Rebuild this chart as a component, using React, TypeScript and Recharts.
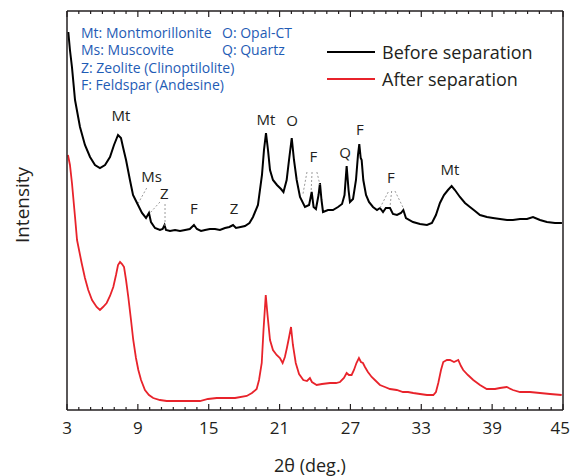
import { LineChart, Line, XAxis, YAxis, ReferenceLine, ReferenceDot } from 'recharts';

const FONT = '"Open Sans", sans-serif';
const INK = '#231f20';
const KEY_BLUE = '#1f5cb5';

// 2θ (deg.) vs. intensity (arb. units)
const beforeSeparation: [number, number][] = [
  [3.11, 378], [3.25, 360], [3.42, 343], [3.68, 310], [4.1, 283], [4.52, 265], [4.95, 253],
  [5.37, 245], [5.79, 242], [6.22, 245], [6.64, 253], [6.98, 265], [7.32, 275], [7.57, 272],
  [7.74, 263], [8.0, 250], [8.33, 230], [8.59, 215], [8.93, 207], [9.35, 197], [9.69, 192],
  [9.94, 197], [10.11, 188], [10.45, 182], [10.87, 180], [11.1, 181], [11.26, 185], [11.38, 180],
  [11.72, 179], [12.15, 180], [12.57, 179], [13.0, 180], [13.4, 181], [13.75, 185], [14.0, 181],
  [14.35, 179], [14.69, 180], [15.1, 181], [15.53, 181], [15.95, 180], [16.38, 182], [16.75, 183],
  [17.06, 185], [17.31, 182], [17.7, 183], [18.07, 184], [18.45, 187], [18.75, 193], [19.17, 205],
  [19.51, 235], [19.68, 260], [19.85, 277], [20.02, 260], [20.19, 240], [20.44, 230], [20.78, 225],
  [21.12, 221], [21.33, 218], [21.6, 230], [21.8, 250], [22.03, 272], [22.22, 250], [22.45, 230],
  [22.73, 213], [23.15, 203], [23.5, 205], [23.72, 218], [23.88, 203], [24.08, 201], [24.3, 215],
  [24.42, 227], [24.55, 210], [24.68, 198], [25.1, 200], [25.52, 200], [25.95, 203], [26.29, 206],
  [26.5, 215], [26.68, 244], [26.84, 220], [26.96, 208], [27.22, 211], [27.47, 230], [27.64, 255],
  [27.75, 266], [27.87, 252], [27.95, 250], [28.09, 230], [28.32, 215], [28.57, 208], [28.91, 203],
  [29.25, 200], [29.5, 202], [29.76, 198], [30.0, 202], [30.35, 202], [30.6, 196], [30.94, 195],
  [31.28, 197], [31.48, 200], [31.7, 192], [32.3, 188], [32.89, 186], [33.48, 185], [33.9, 187],
  [34.24, 195], [34.58, 207], [34.92, 215], [35.26, 220], [35.57, 224], [35.85, 220], [36.27, 213],
  [36.7, 207], [37.12, 203], [37.55, 199], [37.97, 195], [38.56, 193], [39.07, 192], [39.66, 191],
  [40.26, 190], [40.76, 190], [41.36, 191], [41.95, 191], [42.46, 193], [43.05, 190], [43.64, 188],
  [44.32, 187], [44.91, 187],
];

const afterSeparation: [number, number][] = [
  [3.08, 255], [3.25, 245], [3.42, 227], [3.68, 193], [3.85, 170], [4.24, 147], [4.52, 132],
  [4.8, 120], [5.12, 110], [5.51, 103], [5.79, 100], [6.05, 103], [6.36, 107], [6.64, 114],
  [6.92, 123], [7.15, 135], [7.32, 145], [7.49, 148], [7.66, 146], [7.83, 143], [8.0, 130],
  [8.19, 113], [8.42, 90], [8.61, 70], [8.84, 52], [9.04, 40], [9.27, 30], [9.6, 20], [9.94, 15],
  [10.3, 12], [10.87, 10], [11.44, 9], [12.14, 9], [12.99, 9], [13.84, 9], [14.26, 9], [14.94, 11],
  [15.68, 12], [16.38, 12], [17.23, 12], [18.22, 14], [18.66, 17], [19.06, 21], [19.26, 30],
  [19.49, 47], [19.64, 80], [19.83, 115], [19.98, 95], [20.19, 70], [20.44, 60], [20.75, 55],
  [21.03, 52], [21.26, 47], [21.45, 53], [21.62, 62], [21.79, 72], [21.97, 83], [22.13, 65],
  [22.37, 47], [22.65, 36], [23.01, 30], [23.32, 29], [23.57, 32], [23.74, 28], [24.14, 25],
  [24.59, 26], [25.27, 27], [25.78, 27], [26.12, 28], [26.45, 32], [26.68, 37], [26.87, 35],
  [27.1, 35], [27.3, 40], [27.51, 47], [27.72, 52], [27.89, 48], [28.06, 47], [28.23, 43],
  [28.48, 38], [28.8, 33], [29.07, 30], [29.5, 25], [29.92, 23], [30.35, 21], [30.92, 20],
  [31.45, 18], [31.87, 18], [32.32, 17], [32.89, 16], [33.48, 15], [34.02, 15], [34.24, 18],
  [34.44, 27], [34.67, 40], [34.86, 48], [35.17, 50], [35.43, 50], [35.77, 48], [36.13, 50],
  [36.36, 44], [36.55, 40], [36.95, 35], [37.4, 30], [37.97, 25], [38.54, 21], [39.24, 21],
  [39.66, 22], [40.23, 23], [40.76, 20], [41.36, 18], [42.2, 18], [43.05, 17], [43.9, 16],
  [44.89, 15],
];

const majorTicks = [3, 9, 15, 21, 27, 33, 39, 45];
const allTicks = Array.from({ length: 43 }, (_, i) => 3 + i);

// phase labels over the peaks: [text, 2θ, intensity]
const peakLabels: [string, number, number][] = [
  ['Mt', 7.57, 294], ['Ms', 10.17, 233], ['Z', 11.24, 216], ['F', 13.75, 201], ['Z', 17.14, 201],
  ['Mt', 19.85, 290], ['O', 22.05, 289], ['F', 23.86, 253], ['Q', 26.54, 257], ['F', 27.81, 280],
  ['F', 30.43, 232], ['Mt', 35.43, 240],
];

// dotted leader lines from labels to minor peaks
const leaderLines: [number, number, number, number][] = [
  [9.75, 222, 9.04, 207], [10.87, 208, 10.03, 197], [11.3, 206, 11.3, 182],
  [23.32, 238, 22.98, 216], [23.75, 238, 23.67, 218], [24.16, 238, 24.42, 225],
  [30.2, 218, 29.5, 202], [30.49, 219, 30.35, 203], [30.77, 219, 31.48, 202],
];

const mineralKey: string[][] = [
  ['Mt: Montmorillonite', 'O: Opal-CT'],
  ['Ms: Muscovite', 'Q: Quartz'],
  ['Z: Zeolite (Clinoptilolite)'],
  ['F: Feldspar (Andesine)'],
];

const legendItems = [
  { name: 'Before separation', color: '#000000' },
  { name: 'After separation', color: '#e8232b' },
];

const toPoints = (rows: [number, number][]) => rows.map(([deg, intensity]) => ({ deg, intensity }));

const BottomTick = ({ x, y, payload }: any) => {
  const major = majorTicks.includes(payload.value);
  const last = payload.value === majorTicks[majorTicks.length - 1];
  return (
    <g>
      <line x1={x} x2={x} y1={y} y2={y - (major ? 6 : 3)} stroke={INK} strokeWidth={1.2} />
      {major && (
        <text
          x={last ? x + 7 : x}
          y={y + 24}
          textAnchor={last ? 'end' : 'middle'}
          fontSize={17}
          fontFamily={FONT}
          fill={INK}
        >
          {payload.value}
        </text>
      )}
    </g>
  );
};

const TopTick = ({ x, y, payload }: any) => {
  const major = majorTicks.includes(payload.value);
  return <line x1={x} x2={x} y1={y} y2={y + (major ? 6 : 3)} stroke={INK} strokeWidth={1.2} />;
};

export default function App() {
  return (
    <div style={{ position: 'absolute', left: 0, top: 0, width: 571, height: 476, background: '#fff', fontFamily: FONT, color: INK }}>
      <LineChart width={571} height={476} margin={{ top: 1, right: 0, bottom: 36, left: 57 }}>
        <XAxis
          xAxisId="x"
          type="number"
          dataKey="deg"
          domain={[3, 45]}
          ticks={allTicks}
          interval={0}
          height={30}
          tickSize={0}
          tickMargin={0}
          tickLine={false}
          tick={<BottomTick />}
          axisLine={{ stroke: INK, strokeWidth: 1.5 }}
          allowDataOverflow
        />
        <XAxis
          xAxisId="top"
          orientation="top"
          type="number"
          dataKey="deg"
          domain={[3, 45]}
          ticks={allTicks}
          interval={0}
          height={10}
          tickSize={0}
          tickMargin={0}
          tickLine={false}
          tick={<TopTick />}
          axisLine={{ stroke: INK, strokeWidth: 1.5 }}
          allowDataOverflow
        />
        <YAxis yAxisId="y" type="number" domain={[0, 399]} width={10} tick={false} tickLine={false} axisLine={{ stroke: INK, strokeWidth: 1.5 }} allowDataOverflow />
        <YAxis yAxisId="r" orientation="right" type="number" domain={[0, 399]} width={8} tick={false} tickLine={false} axisLine={{ stroke: INK, strokeWidth: 1.5 }} />

        <Line
          xAxisId="x"
          yAxisId="y"
          data={toPoints(afterSeparation)}
          dataKey="intensity"
          stroke={legendItems[1].color}
          strokeWidth={1.8}
          dot={false}
          isAnimationActive={false}
        />
        <Line
          xAxisId="x"
          yAxisId="y"
          data={toPoints(beforeSeparation)}
          dataKey="intensity"
          stroke={legendItems[0].color}
          strokeWidth={2}
          dot={false}
          isAnimationActive={false}
        />

        {leaderLines.map(([x1, y1, x2, y2], i) => (
          <ReferenceLine
            key={`lead-${i}`}
            xAxisId="x"
            yAxisId="y"
            segment={[{ x: x1, y: y1 }, { x: x2, y: y2 }]}
            stroke="#9b9b9b"
            strokeWidth={1}
            strokeDasharray="2 2"
          />
        ))}

        {peakLabels.map(([name, deg, at], i) => (
          <ReferenceDot
            key={`peak-${i}`}
            xAxisId="x"
            yAxisId="y"
            x={deg}
            y={at}
            r={0}
            shape={(p: any) => (
              <text x={p.cx} y={p.cy + 5} textAnchor="middle" fontSize={15} fontFamily={FONT} fill={INK}>
                {name}
              </text>
            )}
          />
        ))}
      </LineChart>

      {/* mineral abbreviations */}
      {mineralKey.map((row, r) =>
        row.map((txt, c) => (
          <div
            key={`key-${r}-${c}`}
            style={{
              position: 'absolute',
              left: c === 0 ? 81 : 222,
              top: 33 + r * 17.3 - 8,
              fontSize: 14,
              lineHeight: '16px',
              color: KEY_BLUE,
              whiteSpace: 'nowrap',
            }}
          >
            {txt}
          </div>
        ))
      )}

      {/* legend */}
      {legendItems.map((item, i) => (
        <div key={item.name} style={{ position: 'absolute', left: 327, top: 52 + i * 27 - 11, height: 22, display: 'flex', alignItems: 'center' }}>
          <div style={{ width: 48, height: 2, background: item.color }} />
          <span style={{ marginLeft: 7, fontSize: 18, lineHeight: '22px', whiteSpace: 'nowrap' }}>{item.name}</span>
        </div>
      ))}

      <div
        style={{
          position: 'absolute',
          left: 22,
          top: 205,
          transform: 'translate(-50%, -50%) rotate(-90deg)',
          fontSize: 19,
          lineHeight: '22px',
          whiteSpace: 'nowrap',
        }}
      >
        Intensity
      </div>
      <div
        style={{
          position: 'absolute',
          left: 310,
          top: 465,
          transform: 'translate(-50%, -50%)',
          fontSize: 18,
          lineHeight: '22px',
          whiteSpace: 'nowrap',
        }}
      >
        2θ (deg.)
      </div>
    </div>
  );
}
